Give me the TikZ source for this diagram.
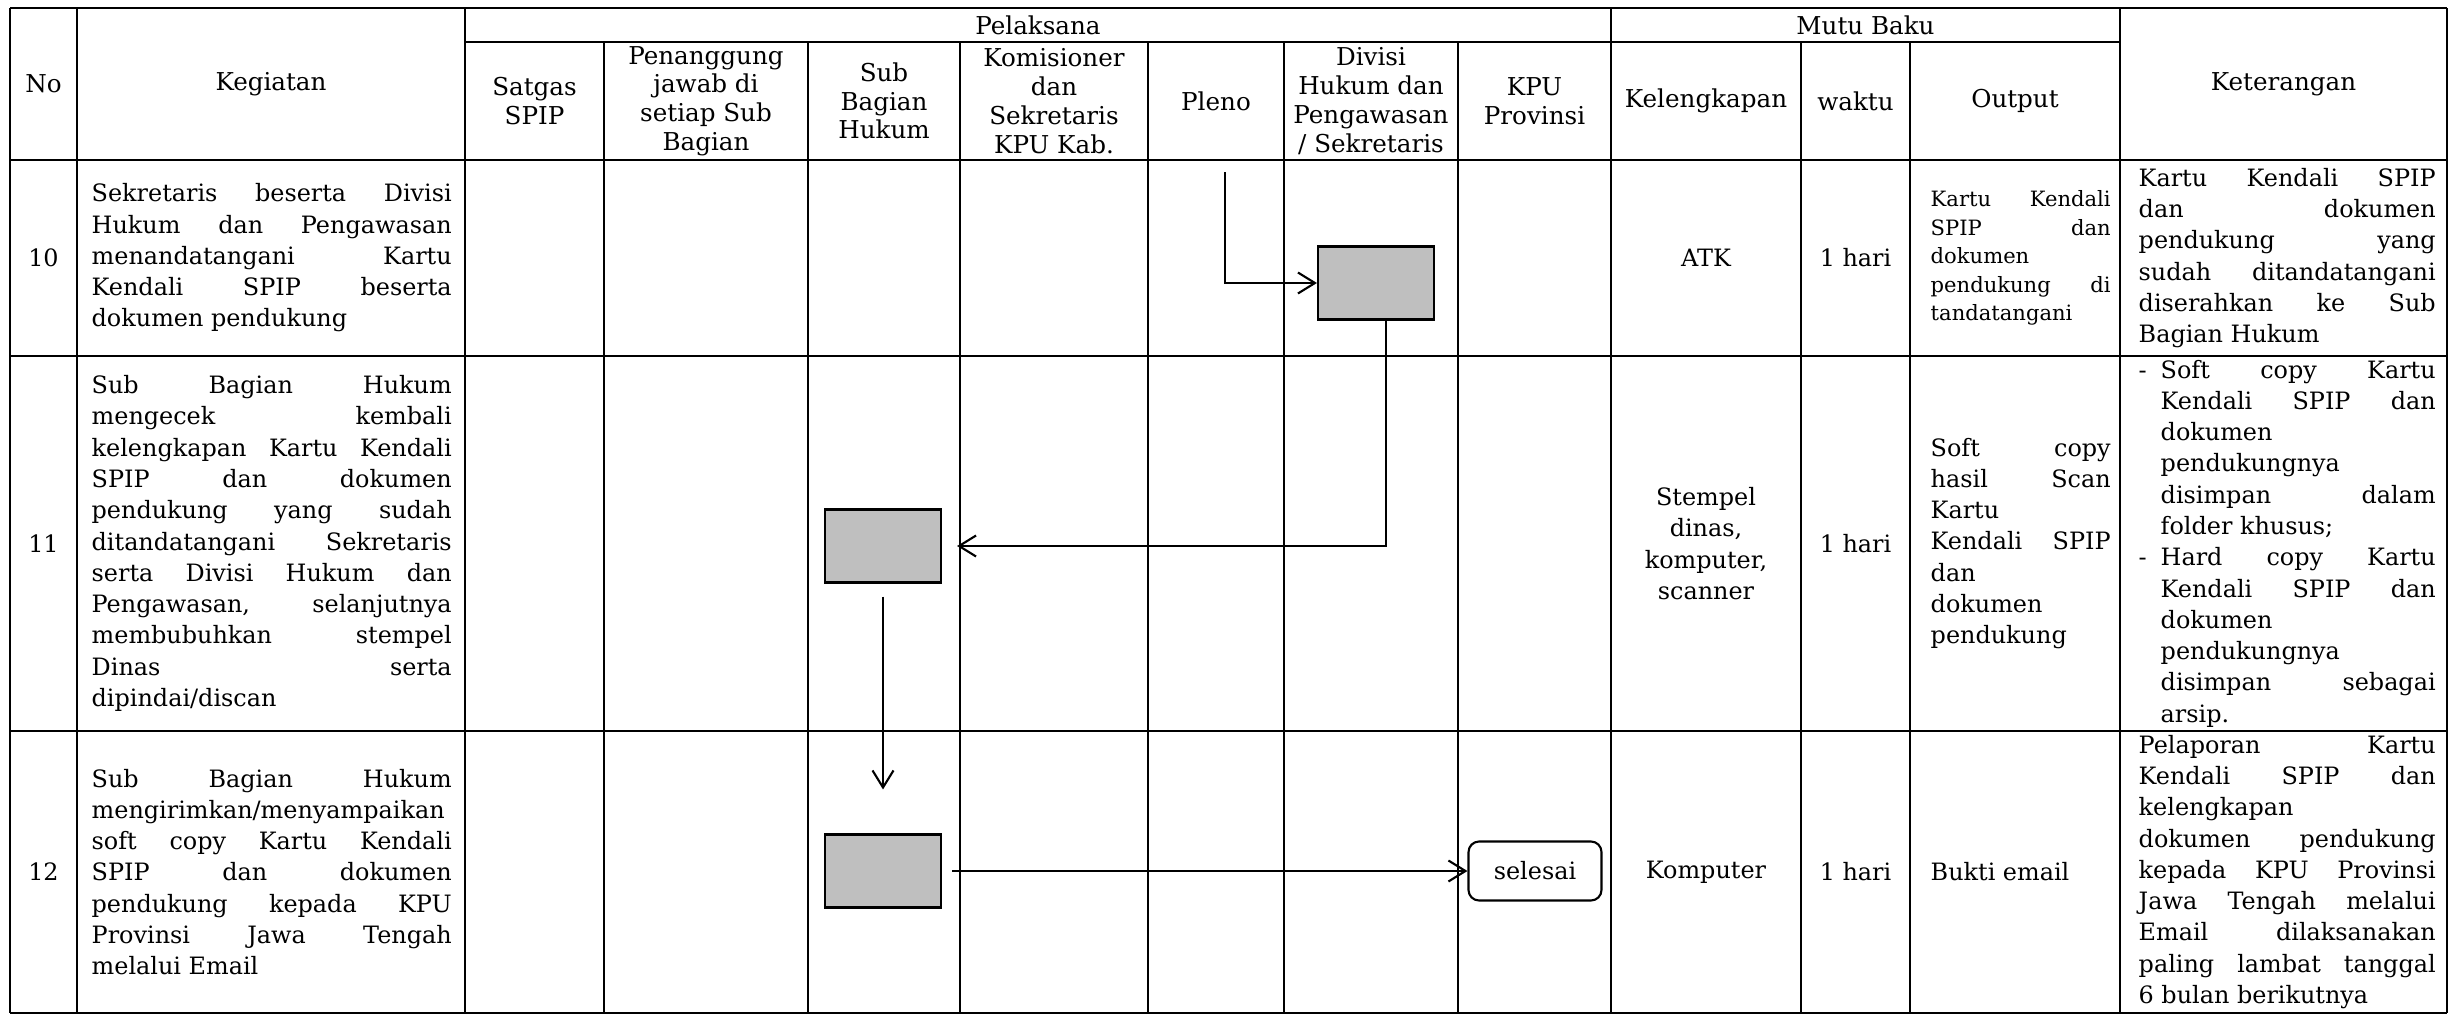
\documentclass[tikz,border=0pt]{standalone}
\usepackage{fontspec}
\setmainfont{DejaVu Serif}
\usetikzlibrary{arrows.meta}

\newcommand{\celltext}{\fontsize{6.8}{8.9}\selectfont\tolerance=10000\hyphenpenalty=10000\hbadness=10000}
\newcommand{\smallcelltext}{\fontsize{6}{8.15}\selectfont\tolerance=10000\hyphenpenalty=10000\hbadness=10000}

\begin{document}
\begin{tikzpicture}[>={Straight Barb[length=1.7mm,width=2.1mm]},
		grid line/.style={line width=0.45pt},
		flow line/.style={->,line width=0.6pt},
		head/.style={align=center,inner sep=0pt,font=\fontsize{7}{8.2}\selectfont},
		cell/.style={align=center,inner sep=0pt,font=\celltext},
		para/.style={align=justify,anchor=west,inner sep=0pt,font=\celltext},
		act node/.style={rectangle,draw,line width=0.6pt,fill=black!25,minimum width=1.16cm,minimum height=0.73cm},
		end node/.style={rectangle,draw,rounded corners=3pt,line width=0.6pt,minimum width=1.33cm,minimum height=0.59cm,font=\fontsize{6.8}{8}\selectfont}]
	\useasboundingbox (0,0) rectangle (24.5,-10.16);

	% table lines
	\draw[grid line] (0.10,-0.08) -- (24.47,-0.08);
	\draw[grid line] (4.65,-0.42) -- (21.20,-0.42);
	\draw[grid line] (0.10,-1.60) -- (24.47,-1.60);
	\draw[grid line] (0.10,-3.56) -- (24.47,-3.56);
	\draw[grid line] (0.10,-7.31) -- (24.47,-7.31);
	\draw[grid line] (0.10,-10.13) -- (24.47,-10.13);
	\draw[grid line] (0.10,-0.08) -- (0.10,-10.13);
	\draw[grid line] (0.77,-0.08) -- (0.77,-10.13);
	\draw[grid line] (4.65,-0.08) -- (4.65,-10.13);
	\draw[grid line] (6.04,-0.42) -- (6.04,-10.13);
	\draw[grid line] (8.08,-0.42) -- (8.08,-10.13);
	\draw[grid line] (9.60,-0.42) -- (9.60,-10.13);
	\draw[grid line] (11.48,-0.42) -- (11.48,-10.13);
	\draw[grid line] (12.84,-0.42) -- (12.84,-10.13);
	\draw[grid line] (14.58,-0.42) -- (14.58,-10.13);
	\draw[grid line] (16.11,-0.08) -- (16.11,-10.13);
	\draw[grid line] (18.01,-0.42) -- (18.01,-10.13);
	\draw[grid line] (19.10,-0.42) -- (19.10,-10.13);
	\draw[grid line] (21.20,-0.08) -- (21.20,-10.13);
	\draw[grid line] (24.47,-0.08) -- (24.47,-10.13);

	% header
	\node[head] (no) at (0.435,-0.84) {No};
	\node[head] (keg) at (2.71,-0.84) {Kegiatan};
	\node[head] (pel) at (10.38,-0.25) {Pelaksana};
	\node[head] (mutu) at (18.655,-0.25) {Mutu Baku};
	\node[head] (ket) at (22.835,-0.84) {Keterangan};
	\node[head] (satgas) at (5.345,-1.01) {Satgas\\SPIP};
	\node[head] (pj) at (7.06,-1.01) {Penanggung\\jawab di\\setiap Sub\\Bagian};
	\node[head] (sbh) at (8.84,-1.01) {Sub\\Bagian\\Hukum};
	\node[head] (kom) at (10.54,-1.01) {Komisioner\\dan\\Sekretaris\\KPU Kab.};
	\node[head] (pleno) at (12.16,-1.01) {Pleno};
	\node[head] (divisi) at (13.71,-1.01) {Divisi\\Hukum dan\\Pengawasan\\/ Sekretaris};
	\node[head] (kpu) at (15.345,-1.01) {KPU\\Provinsi};
	\node[head] (kel) at (17.06,-1.01) {Kelengkapan};
	\node[head] (wkt) at (18.555,-1.01) {waktu};
	\node[head] (out) at (20.15,-1.01) {Output};

	% row 10
	\node[cell] (no10) at (0.435,-2.58) {10};
	\node[para,text width=3.60cm] (keg10) at (0.91,-2.58) {Sekretaris beserta Divisi\linebreak Hukum dan Pengawasan\linebreak menandatangani Kartu\linebreak Kendali SPIP beserta\linebreak dokumen pendukung};
	\node[cell] (kel10) at (17.06,-2.58) {ATK};
	\node[cell] (wkt10) at (18.555,-2.58) {1 hari};
	\node[para,text width=1.80cm,font=\smallcelltext] (out10) at (19.30,-2.58) {Kartu Kendali\linebreak SPIP dan\linebreak dokumen\linebreak pendukung di\linebreak tandatangani};
	\node[para,text width=2.97cm] (ket10) at (21.38,-2.58) {Kartu Kendali SPIP\linebreak dan dokumen\linebreak pendukung yang\linebreak sudah ditandatangani\linebreak diserahkan ke Sub\linebreak Bagian Hukum};

	% row 11
	\node[cell] (no11) at (0.435,-5.435) {11};
	\node[para,text width=3.60cm] (keg11) at (0.91,-5.435) {Sub Bagian Hukum\linebreak mengecek kembali\linebreak kelengkapan Kartu Kendali\linebreak SPIP dan dokumen\linebreak pendukung yang sudah\linebreak ditandatangani Sekretaris\linebreak serta Divisi Hukum dan\linebreak Pengawasan, selanjutnya\linebreak membubuhkan stempel\linebreak Dinas serta\linebreak dipindai/discan};
	\node[cell] (kel11) at (17.06,-5.435) {Stempel\\dinas,\\komputer,\\scanner};
	\node[cell] (wkt11) at (18.555,-5.435) {1 hari};
	\node[para,text width=1.80cm] (out11) at (19.30,-5.435) {Soft copy\linebreak hasil Scan\linebreak Kartu\linebreak Kendali SPIP\linebreak dan\linebreak dokumen\linebreak pendukung};
	\node[para,text width=2.97cm] (ket11) at (21.38,-5.435) {\hangindent=0.22cm\hangafter=1\makebox[0.22cm][l]{-}Soft copy Kartu\linebreak Kendali SPIP dan\linebreak dokumen\linebreak pendukungnya\linebreak disimpan dalam\linebreak folder khusus;\par
		\hangindent=0.22cm\hangafter=1\makebox[0.22cm][l]{-}Hard copy Kartu\linebreak Kendali SPIP dan\linebreak dokumen\linebreak pendukungnya\linebreak disimpan sebagai\linebreak arsip.\par};

	% row 12
	\node[cell] (no12) at (0.435,-8.72) {12};
	\node[para,text width=3.60cm] (keg12) at (0.91,-8.72) {Sub Bagian Hukum\linebreak mengirimkan/menyampaikan\linebreak soft copy Kartu Kendali\linebreak SPIP dan dokumen\linebreak pendukung kepada KPU\linebreak Provinsi Jawa Tengah\linebreak melalui Email};
	\node[cell] (kel12) at (17.06,-8.72) {Komputer};
	\node[cell] (wkt12) at (18.555,-8.72) {1 hari};
	\node[para,text width=1.80cm] (out12) at (19.30,-8.72) {Bukti email};
	\node[para,text width=2.97cm] (ket12) at (21.38,-8.72) {Pelaporan Kartu\linebreak Kendali SPIP dan\linebreak kelengkapan\linebreak dokumen pendukung\linebreak kepada KPU Provinsi\linebreak Jawa Tengah melalui\linebreak Email dilaksanakan\linebreak paling lambat tanggal\linebreak 6 bulan berikutnya};

	% flow
	\node[act node] (divbox) at (13.76,-2.83) {};
	\node[act node] (subbox) at (8.83,-5.46) {};
	\node[act node] (sendbox) at (8.83,-8.71) {};
	\node[end node] (selesai) at (15.35,-8.71) {selesai};
	\coordinate (plenotop) at (12.25,-1.72);

	\draw[flow line] (plenotop) |- (divbox);
	\draw[flow line,shorten >=0.15cm] ([xshift=0.1cm]divbox.south) |- (subbox);
	\draw[flow line,shorten <=0.13cm,shorten >=0.44cm] (subbox) -- (sendbox);
	\draw[flow line,shorten <=0.1cm] (sendbox) -- (selesai);
\end{tikzpicture}
\end{document}
